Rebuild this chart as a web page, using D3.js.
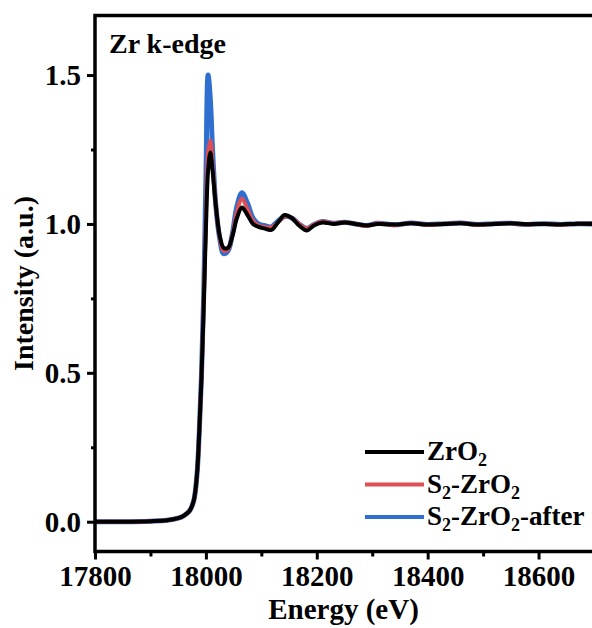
<html>
<head>
<style>
body { margin: 0; background: #fff; }
svg text { font-family: "Liberation Serif", "Times New Roman", serif; font-weight: bold; fill: #000; }
</style>
<script src="https://d3js.org/d3.v7.min.js"></script>
</head>
<body>
<svg width="592" height="628"></svg>
<script>

// energy grid (eV)
var energy = [17800, 17850, 17900, 17930, 17950, 17960, 17970, 17978, 17984, 17988,
              17992, 17996, 18000, 18004, 18008, 18012, 18018, 18025, 18032, 18040,
              18048, 18056, 18065, 18075, 18085, 18095, 18105, 18118, 18130, 18142,
              18155, 18168, 18182, 18195, 18210, 18230, 18250, 18270, 18290, 18310,
              18340, 18370, 18400, 18430, 18460, 18490, 18520, 18550, 18580, 18610,
              18640, 18670, 18700];

var zro2 = [0.000, 0.000, 0.002, 0.005, 0.012, 0.020, 0.035, 0.070, 0.160, 0.300,
            0.480, 0.720, 0.980, 1.180, 1.240, 1.180, 1.060, 0.960, 0.920, 0.920,
            0.960, 1.020, 1.055, 1.030, 1.000, 0.990, 0.985, 0.980, 1.005, 1.030,
            1.020, 0.995, 0.978, 0.995, 1.005, 1.000, 1.005, 1.000, 0.995, 1.000,
            0.998, 1.002, 0.998, 1.000, 1.002, 0.998, 1.000, 1.002, 0.999, 1.000,
            0.998, 1.001, 1.000];

var s2zro2 = [0.000, 0.000, 0.002, 0.005, 0.012, 0.020, 0.035, 0.070, 0.160, 0.300,
              0.480, 0.730, 1.020, 1.240, 1.280, 1.200, 1.060, 0.955, 0.910, 0.915,
              0.965, 1.040, 1.085, 1.050, 1.010, 0.995, 0.990, 0.988, 1.005, 1.025,
              1.020, 1.000, 0.985, 0.998, 1.008, 1.002, 1.006, 1.000, 0.993, 1.002,
              0.996, 1.003, 0.997, 1.001, 1.003, 0.997, 1.001, 1.002, 0.998, 1.001,
              0.997, 1.001, 1.000];

var s2zro2After = [0.000, 0.000, 0.002, 0.005, 0.012, 0.020, 0.035, 0.070, 0.160, 0.300,
                   0.490, 0.760, 1.150, 1.500, 1.420, 1.250, 1.060, 0.950, 0.900, 0.910,
                   0.970, 1.060, 1.105, 1.070, 1.020, 1.000, 0.995, 0.990, 1.010, 1.025,
                   1.020, 1.000, 0.985, 0.998, 1.008, 1.002, 1.006, 1.000, 0.995, 1.002,
                   0.997, 1.003, 0.998, 1.001, 1.003, 0.998, 1.001, 1.002, 0.998, 1.001,
                   0.998, 1.001, 1.000];

var xTicks = [17800, 18000, 18200, 18400, 18600];
var yTicks = [0.0, 0.5, 1.0, 1.5];

var series = [
  {name: "S2-ZrO2-after", values: s2zro2After, color: "#2f6fcf", width: 5},
  {name: "S2-ZrO2", values: s2zro2, color: "#de4f55", width: 4},
  {name: "ZrO2", values: zro2, color: "#000000", width: 4}
];

var svg = d3.select("svg");
var plotLeft = 95, plotRight = 594, plotTop = 15.5, plotBottom = 551.5;

var x = d3.scaleLinear().domain([17800, 18700]).range([plotLeft, plotRight]);
var y = d3.scaleLinear().domain([-0.1, 1.7]).range([plotBottom, plotTop]);

// curves
var line = d3.line()
    .x(function(d, i) { return x(energy[i]); })
    .y(function(d) { return y(d); })
    .curve(d3.curveCatmullRom.alpha(0.5));

svg.append("g").selectAll("path")
   .data(series)
   .enter()
   .append("path")
   .attr("d", function(d) { return line(d.values); })
   .attr("fill", "none")
   .attr("stroke", function(d) { return d.color; })
   .attr("stroke-width", function(d) { return d.width; })
   .attr("stroke-linejoin", "round");

// frame
svg.append("rect")
   .attr("x", plotLeft).attr("y", plotTop)
   .attr("width", plotRight - plotLeft).attr("height", plotBottom - plotTop)
   .attr("fill", "none").attr("stroke", "#000").attr("stroke-width", 3.5);

// x axis
var xAxis = svg.append("g").attr("transform", "translate(0," + plotBottom + ")");
xAxis.append("g").call(d3.axisBottom(x).tickValues(d3.range(17900, 18700, 200)).tickSize(5).tickFormat(""));
xAxis.append("g").call(d3.axisBottom(x).tickValues(xTicks).tickSize(8).tickPadding(6).tickFormat(d3.format("d")));
xAxis.selectAll(".domain").remove();
xAxis.selectAll("line").attr("stroke", "#000").attr("stroke-width", 3);
xAxis.selectAll("text").style("font-size", "29px").attr("fill", "#000");

// y axis
var yAxis = svg.append("g").attr("transform", "translate(" + plotLeft + ",0)");
yAxis.append("g").call(d3.axisLeft(y).tickValues([0.25, 0.75, 1.25]).tickSize(4).tickFormat(""));
yAxis.append("g").call(d3.axisLeft(y).tickValues(yTicks).tickSize(8).tickPadding(6).tickFormat(d3.format(".1f")));
yAxis.selectAll(".domain").remove();
yAxis.selectAll("line").attr("stroke", "#000").attr("stroke-width", 3);
yAxis.selectAll("text").style("font-size", "29px").attr("fill", "#000");

// axis titles
svg.append("text")
   .attr("x", (plotLeft + 592) / 2).attr("y", 619)
   .attr("text-anchor", "middle")
   .style("font-size", "29px")
   .text("Energy (eV)");

svg.append("text")
   .attr("transform", "translate(33," + ((plotTop + plotBottom) / 2) + ") rotate(-90)")
   .attr("text-anchor", "middle")
   .style("font-size", "28px")
   .text("Intensity (a.u.)");

svg.append("text")
   .attr("x", 109).attr("y", 53)
   .style("font-size", "28px")
   .text("Zr k-edge");

// legend
var legendItems = [
  {parts: [["ZrO", 0], ["2", 1]], color: "#000000"},
  {parts: [["S", 0], ["2", 1], ["-ZrO", 0], ["2", 1]], color: "#de4f55"},
  {parts: [["S", 0], ["2", 1], ["-ZrO", 0], ["2", 1], ["-after", 0]], color: "#2f6fcf"}
];

var lg = svg.append("g").selectAll("g")
   .data(legendItems)
   .enter()
   .append("g")
   .attr("transform", function(d, i) { return "translate(365," + (452 + i * 32.5) + ")"; });

lg.append("line")
   .attr("x1", 0).attr("x2", 59)
   .attr("stroke", function(d) { return d.color; })
   .attr("stroke-width", 4);

lg.append("text")
   .attr("x", 62).attr("y", 8)
   .style("font-size", "27px")
   .each(function(d) {
     var t = d3.select(this);
     var prevSub = 0;
     d.parts.forEach(function(p) {
       var dy = p[1] ? 6 : (prevSub ? -6 : 0);
       t.append("tspan")
        .attr("dy", dy)
        .style("font-size", p[1] ? "18px" : null)
        .text(p[0]);
       prevSub = p[1];
     });
   });

</script>
</body>
</html>
